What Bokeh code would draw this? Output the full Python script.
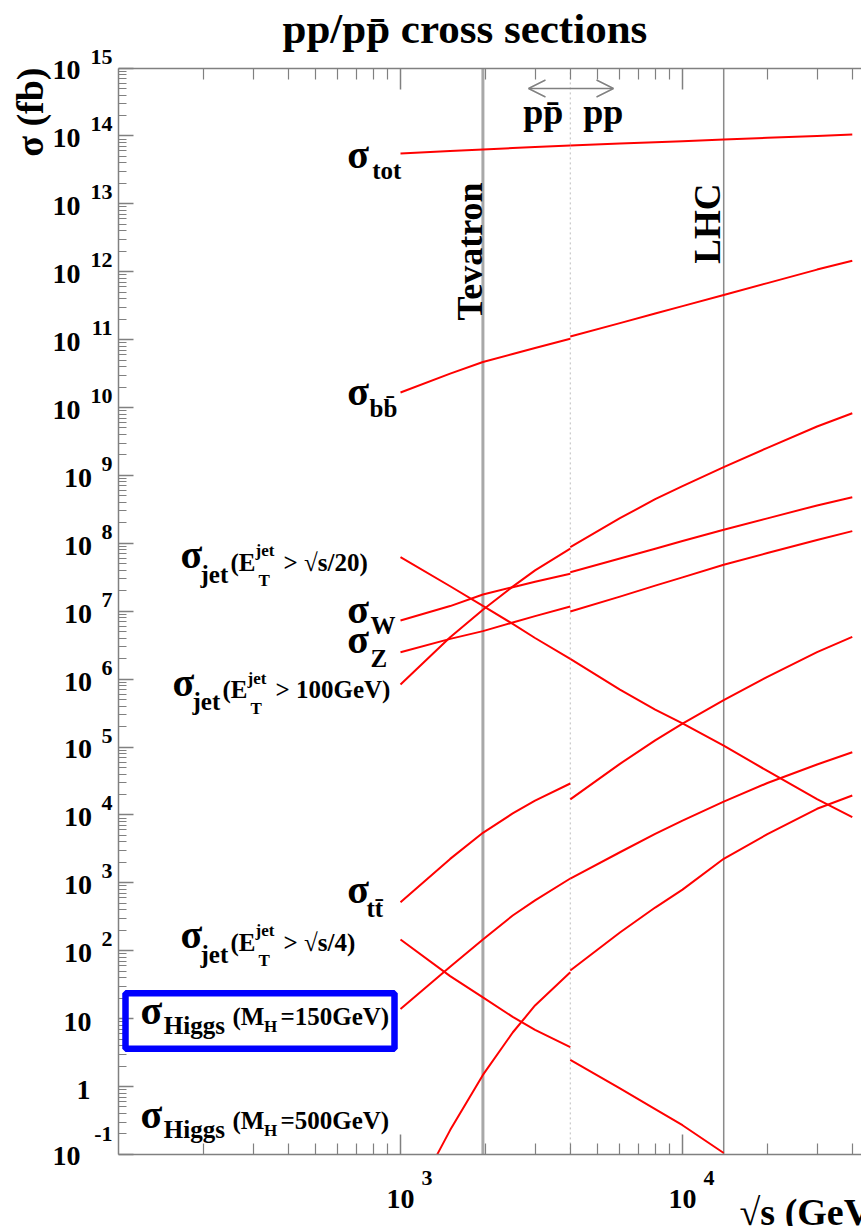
import math
from bokeh.plotting import figure
from bokeh.models import Label, LogAxis, FixedTicker, BoxAnnotation, Arrow, OpenHead
from bokeh.embed import file_html
from bokeh.resources import INLINE

# ---------------- data: sigma (fb) versus sqrt(s) (GeV) ----------------
SQRTS_PPBAR = [1000, 1500, 1960, 2500, 3000, 4000]
SQRTS_PP = [4000, 6000, 8000, 10000, 14000, 20000, 30000, 40000]

SIG_TOT_PPBAR = [5.5e13, 5.97e13, 6.28e13, 6.61e13, 6.84e13, 7.23e13]
SIG_TOT_PP = [7.23e13, 7.71e13, 8.07e13, 8.37e13, 8.85e13, 9.38e13, 1.0e14, 1.05e14]
SIG_BB_PPBAR = [1.66e10, 3.16e10, 4.68e10, 6.14e10, 7.52e10, 1.03e11]
SIG_BB_PP = [1.11e11, 1.75e11, 2.42e11, 3.11e11, 4.55e11, 6.79e11, 1.074e12, 1.445e12]
SIG_JET100_PPBAR = [8.3e5, 4.13e6, 1.05e7, 2.3e7, 3.99e7, 8.37e7]
SIG_JET100_PP = [8.77e7, 2.34e8, 4.46e8, 6.93e8, 1.32e9, 2.55e9, 5.25e9, 8.24e9]
SIG_W_PPBAR = [7.3e6, 1.19e7, 1.76e7, 2.26e7, 2.71e7, 3.56e7]
SIG_W_PP = [3.75e7, 5.96e7, 8.32e7, 1.08e8, 1.58e8, 2.33e8, 3.61e8, 4.78e8]
SIG_Z_PPBAR = [2.49e6, 3.91e6, 5.09e6, 6.81e6, 8.47e6, 1.17e7]
SIG_Z_PP = [9.9e6, 1.64e7, 2.38e7, 3.15e7, 4.82e7, 7.18e7, 1.12e8, 1.51e8]
SIG_JET20_PPBAR = [6.24e7, 2.33e7, 1.2e7, 6.5e6, 4.03e6, 1.99e6]
SIG_JET20_PP = [1.99e6, 6.98e5, 3.56e5, 2.23e5, 1.05e5, 4.44e4, 1.71e4, 9.25e3]
SIG_TT_PPBAR = [518, 2250, 5445, 1.05e4, 1.62e4, 2.9e4]
SIG_TT_PP = [1.69e4, 5.65e4, 1.25e5, 2.21e5, 4.91e5, 1.08e6, 2.5e6, 4.19e6]
SIG_JET4_PPBAR = [146, 42.2, 20.5, 10.6, 6.84, 3.79]
SQRTS_JET4_PP = [4000, 6000, 8000, 10000, 14000]
SIG_JET4_PP = [2.47, 0.935, 0.465, 0.269, 0.105]
SIG_H150_PPBAR = [13.9, 57.9, 146.6, 330, 550, 1156]
SIG_H150_PP = [1156, 2818, 5248, 8260, 1.57e4, 2.95e4, 5.52e4, 8.37e4]
SQRTS_H500_PPBAR = [1350, 1500, 1960, 2500, 3000, 4000]
SIG_H500_PPBAR = [0.1, 0.228, 1.48, 6.24, 15.6, 48.2]
SIG_H500_PP = [51.2, 185, 432, 794, 2260, 5200, 1.23e4, 1.93e4]

TEVATRON_SQRTS = 1960
LHC_SQRTS = 14000
PP_PPBAR_SWITCH = 4000

X_BOX = (100, 4.3e4)   # visible plotting box (sqrt(s), GeV)
Y_BOX = (0.1, 1e15)    # visible plotting box (sigma, fb)
X_MAJOR = [1e3, 1e4]
X_MINOR = [m * 10.0 ** e for e in (2, 3, 4) for m in range(2, 10) if m * 10.0 ** e <= 4.0e4]
Y_MAJOR = [10.0 ** k for k in range(-1, 16)]
Y_MINOR = [m * 10.0 ** k for k in range(-1, 15) for m in range(2, 10)]

CURVES = [
    (SQRTS_PPBAR, SIG_TOT_PPBAR), (SQRTS_PP, SIG_TOT_PP),
    (SQRTS_PPBAR, SIG_BB_PPBAR), (SQRTS_PP, SIG_BB_PP),
    (SQRTS_PPBAR, SIG_JET100_PPBAR), (SQRTS_PP, SIG_JET100_PP),
    (SQRTS_PPBAR, SIG_W_PPBAR), (SQRTS_PP, SIG_W_PP),
    (SQRTS_PPBAR, SIG_Z_PPBAR), (SQRTS_PP, SIG_Z_PP),
    (SQRTS_PPBAR, SIG_JET20_PPBAR), (SQRTS_PP, SIG_JET20_PP),
    (SQRTS_PPBAR, SIG_TT_PPBAR), (SQRTS_PP, SIG_TT_PP),
    (SQRTS_PPBAR, SIG_JET4_PPBAR), (SQRTS_JET4_PP, SIG_JET4_PP),
    (SQRTS_PPBAR, SIG_H150_PPBAR), (SQRTS_PP, SIG_H150_PP),
    (SQRTS_H500_PPBAR, SIG_H500_PPBAR), (SQRTS_PP, SIG_H500_PP),
]

# ---------------- layout (the frame fills the canvas) ----------------
FIG_W, FIG_H = 861, 1226
BOX_LEFT_PX, BOX_TOP_PX = 118, 67.5
DEC_X_PX, DEC_Y_PX = 282.0, 67.9
LX0 = math.log10(X_BOX[0]) - BOX_LEFT_PX / DEC_X_PX
LX1 = LX0 + FIG_W / DEC_X_PX
LY1 = math.log10(Y_BOX[1]) + BOX_TOP_PX / DEC_Y_PX
LY0 = LY1 - FIG_H / DEC_Y_PX
X_RANGE = (10 ** LX0, 10 ** LX1)
Y_RANGE = (10 ** LY0, 10 ** LY1)
FONT = "Liberation Serif"
RED = "#ff0000"
GRAY = "#808080"
BASE_SHIFT = 0.34   # em: correction between requested and drawn baseline


def at(px, py):
    return (10 ** (LX0 + px / FIG_W * (LX1 - LX0)),
            10 ** (LY1 - py / FIG_H * (LY1 - LY0)))


def page_x(v):
    return (math.log10(v) - LX0) / (LX1 - LX0) * FIG_W


def page_y(v):
    return (LY1 - math.log10(v)) / (LY1 - LY0) * FIG_H


p = figure(width=FIG_W, height=FIG_H, x_axis_type="log", y_axis_type="log",
           x_range=X_RANGE, y_range=Y_RANGE, toolbar_location=None,
           output_backend="svg", min_border=0, min_border_left=0,
           min_border_right=0, min_border_top=0, min_border_bottom=0)
p.outline_line_color = None
p.grid.visible = False
p.background_fill_color = "white"
p.border_fill_color = "white"


def style_axis(ax, ticks, minor, major_len, minor_len, loc, bounds):
    ax.ticker = FixedTicker(ticks=ticks, minor_ticks=minor)
    ax.fixed_location = loc
    ax.bounds = bounds
    ax.axis_line_color = GRAY
    ax.axis_line_width = 1.5
    ax.major_tick_line_color = GRAY
    ax.major_tick_line_width = 1.5
    ax.minor_tick_line_color = GRAY
    ax.minor_tick_line_width = 1.2
    ax.major_tick_in = major_len
    ax.major_tick_out = 0
    ax.minor_tick_in = minor_len
    ax.minor_tick_out = 0
    ax.major_label_standoff = 0
    ax.major_label_text_font_size = "1px"
    ax.major_label_text_color = None
    ax.major_label_overrides = {t: "" for t in ticks}


style_axis(p.yaxis[0], Y_MAJOR, Y_MINOR, 15, 8, X_BOX[0], Y_BOX)
style_axis(p.xaxis[0], X_MAJOR, X_MINOR, 20, 11, Y_BOX[0], X_BOX)
top = LogAxis()
style_axis(top, X_MAJOR, X_MINOR, 21, 11, Y_BOX[1], X_BOX)
p.add_layout(top, "above")

# vertical reference lines
p.segment(x0=[TEVATRON_SQRTS], y0=[Y_BOX[0]], x1=[TEVATRON_SQRTS], y1=[Y_BOX[1]],
          line_color="#a8a8a8", line_width=3)
p.segment(x0=[LHC_SQRTS], y0=[Y_BOX[0]], x1=[LHC_SQRTS], y1=[Y_BOX[1]],
          line_color="#8a8a8a", line_width=1.5)
p.segment(x0=[PP_PPBAR_SWITCH], y0=[Y_BOX[0]], x1=[PP_PPBAR_SWITCH], y1=[Y_BOX[1]],
          line_color="#bdbdbd", line_width=1, line_dash="2 3")

for xs, ys in CURVES:
    p.line(xs, ys, line_color=RED, line_width=2, line_join="round")


def txt(px, py, s, size, align="left", angle=0.0):
    # px, py: wanted position of the text's baseline anchor, in canvas pixels
    if angle:
        px -= BASE_SHIFT * size
    else:
        py -= BASE_SHIFT * size
    x, y = at(px, py)
    p.add_layout(Label(x=x, y=y, text=s, text_font=FONT, text_font_style="bold",
                       text_font_size=f"{size}px", text_align=align,
                       text_baseline="alphabetic", angle=angle, text_color="black"))


# y tick labels
for v in Y_MAJOR:
    k = round(math.log10(v))
    ty = page_y(v)
    if k == 0:
        txt(90, ty + 13, "1", 28, "right")
    elif k == 1:
        txt(91, ty + 13, "10", 28, "right")
    elif k < 0:
        txt(112, ty - 13, str(k), 22, "right")
        txt(80, ty + 11, "10", 28, "right")
    else:
        e = str(k)
        txt(112, ty - 4, e, 22, "right")
        txt(112 - 11.5 * len(e) - 9, ty + 12, "10", 28, "right")

# x tick labels
fb = page_y(Y_BOX[0])
for v in X_MAJOR:
    k = round(math.log10(v))
    tx = page_x(v)
    txt(tx, fb + 54, "10", 28, "center")
    txt(tx + 21, fb + 31.5, str(k), 22, "left")

# titles
txt(282, 43, "pp/pp\u0304 cross sections", 43)
txt(42, 67, "\u03c3 (fb)", 38, "right", math.pi / 2)
txt(739, 1224, "\u221as (GeV)", 38)

# machine annotations
txt(482, 182, "Tevatron", 36, "right", math.pi / 2)
txt(720, 183, "LHC", 37, "right", math.pi / 2)
txt(522.7, 124, "pp\u0304", 36)
txt(582.7, 124, "pp", 36)
a0 = at(528, 88)
a1 = at(613, 88)
p.add_layout(Arrow(start=OpenHead(size=17, line_color=GRAY, line_width=1.5),
                   end=OpenHead(size=17, line_color=GRAY, line_width=1.5),
                   x_start=a0[0], y_start=a0[1], x_end=a1[0], y_end=a1[1],
                   line_color=GRAY, line_width=1.5))

# curve labels
SIG = 40
SUB = 25
PAR = 25
SMALL = 17


def sigma_label(x, y, sub, dx_sub=27.3, dy_sub=11):
    txt(x, y, "\u03c3", SIG)
    txt(x + dx_sub, y + dy_sub, sub, SUB)


sigma_label(346.7, 168, "tot", 25, 10)
sigma_label(346.7, 405, "bb\u0304", 22.3, 11)
sigma_label(346.7, 622.7, "W", 23.3, 10.5)
sigma_label(346.7, 653, "Z", 23.3, 13.5)
sigma_label(346.7, 903, "tt\u0304", 19.3, 13.5)


def jet_label(x, y, tail):
    txt(x, y, "\u03c3", SIG)
    txt(x + 20, y + 14, "jet", SUB)
    txt(x + 50, y + 2, "(E", PAR)
    txt(x + 75, y - 12, "jet", SMALL)
    txt(x + 78, y + 18, "T", SMALL)
    txt(x + 103, y + 2, tail, PAR)


jet_label(180, 568, "> \u221as/20)")
jet_label(172, 695.5, "> 100GeV)")
jet_label(180, 948, "> \u221as/4)")


def higgs_label(y, mass):
    txt(140, y, "\u03c3", SIG)
    txt(163.3, y + 10, "Higgs", SUB)
    txt(232, y + 1, "(M", PAR)
    txt(263.5, y + 8, "H", SMALL)
    txt(280, y + 1, f"={mass}GeV)", PAR)


higgs_label(1023.3, 150)
higgs_label(1127.5, 500)

b_tl = at(125, 992.7)
b_br = at(394, 1048.3)
p.add_layout(BoxAnnotation(left=b_tl[0], right=b_br[0], top=b_tl[1], bottom=b_br[1],
                           fill_alpha=0, line_color="#0000ff", line_alpha=1.0,
                           line_width=6.5, level="overlay"))

open("out.html", "w").write(file_html(p, INLINE))
